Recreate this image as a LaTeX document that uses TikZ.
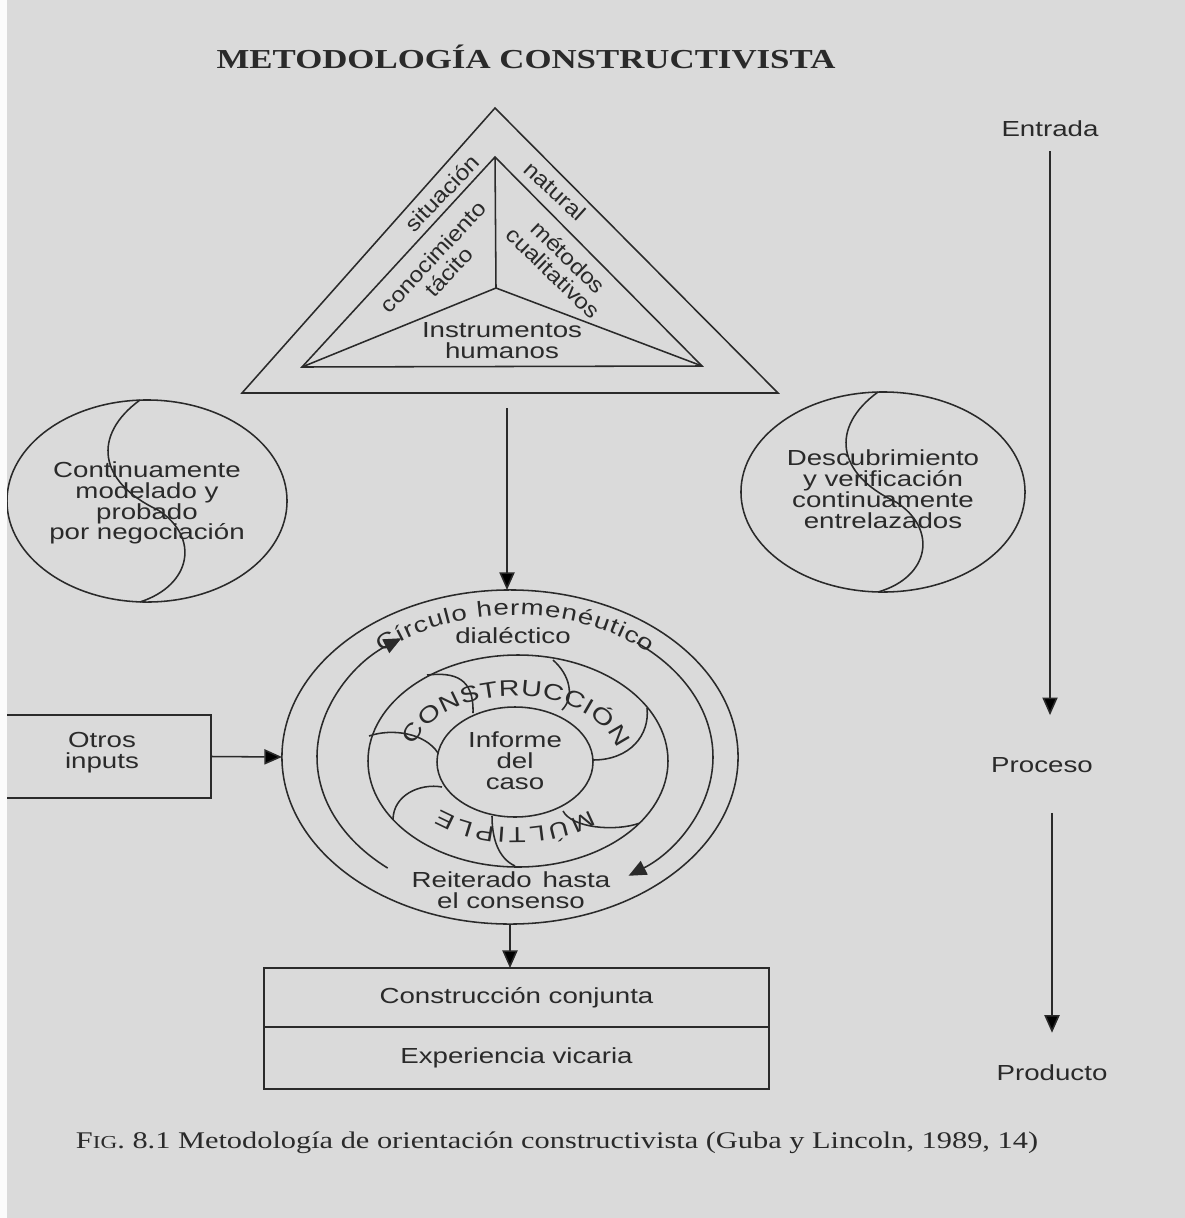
\documentclass[tikz,border=0pt]{standalone}
\usepackage{fontspec}
\setsansfont{Liberation Sans}[FakeStretch=1.27]
\newfontfamily\diagsans{Liberation Sans}[FakeStretch=1.12]
\newfontfamily\plainsans{Liberation Sans}
\newfontfamily\serifw{Liberation Serif}[FakeStretch=1.27]
\usetikzlibrary{arrows.meta,shapes.geometric,decorations.text}
\definecolor{paper}{HTML}{DADADA}
\definecolor{ink}{HTML}{2A2A2A}
\newcommand\lblfont{\sffamily\fontsize{15.5}{14.8}\selectfont}
\newcommand\diagfont{\diagsans\fontsize{15.5}{15.5}\selectfont}
\begin{document}
\begin{tikzpicture}[x=0.025cm,y=0.025cm,
  ln/.style={draw=ink,line width=1.1pt},
  lbl/.style={font=\lblfont,text=ink,align=center,inner sep=0pt},
  dlbl/.style={font=\diagfont,text=ink,align=center,inner sep=0pt},
  arr/.style={ln,-{Triangle[length=0.44cm,width=0.38cm]}},
  oval/.style={ellipse,ln,inner sep=0pt,outer sep=0pt},
  boxx/.style={rectangle,ln,inner sep=0pt,outer sep=0pt}
]
\useasboundingbox (0,0) rectangle (1185,-1218);
\fill[paper] (0,0) rectangle (1185,-1218);

% title
\node[font=\serifw\bfseries\fontsize{19.5}{20}\selectfont,text=ink,inner sep=0pt] (title) at (526,-57) {METODOLOGÍA CONSTRUCTIVISTA};

% triangle
\coordinate (A) at (495,-108);
\coordinate (B) at (242,-393);
\coordinate (C) at (778,-393);
\coordinate (a) at (495,-157);
\coordinate (b) at (302,-367);
\coordinate (c) at (702,-366);
\coordinate (o) at (496,-288);
\draw[ln] (A) -- (B) -- (C) -- cycle;
\draw[ln] (a) -- (b) -- (c) -- cycle;
\draw[ln] (a) -- (o) (o) -- (b) (o) -- (c);
\node[dlbl,rotate=46] (sit) at (442,-193) {situación};
\node[dlbl,rotate=-42] (nat) at (555,-191) {natural};
\node[dlbl,rotate=47] (con) at (441,-264) {conocimiento\\tácito};
\node[dlbl,rotate=-44] (met) at (561,-265) {métodos\\cualitativos};
\node[lbl] (ins) at (502,-341) {Instrumentos\\humanos};

% side circles
\node[oval,minimum width=7cm,minimum height=5.05cm] (lc) at (147,-501) {};
\draw[ln] (140,-400) .. controls (92,-435) and (98,-482) .. (158,-510)
                     .. controls (200,-537) and (192,-585) .. (140,-602);
\node[lbl] (lct) at (147,-503) {Continuamente\\modelado y\\probado\\por negociación};

\node[oval,minimum width=7.1cm,minimum height=5cm] (rc) at (883,-492) {};
\draw[ln] (878,-392) .. controls (830,-427) and (836,-474) .. (896,-502)
                     .. controls (938,-529) and (930,-577) .. (878,-592);
\node[lbl] (rct) at (883,-489) {Descubrimiento\\y verificación\\continuamente\\entrelazados};

% hermeneutic circle
\node[oval,minimum width=11.4cm,minimum height=8.35cm] (ring) at (510,-757) {};
\coordinate (c2) at (515,-757);
\coordinate (c3) at (515,-762);
\draw[arr] ([shift={(230:198 and 145)}]c2) arc[start angle=230,end angle=125,x radius=198,y radius=145];
\draw[arr] ([shift={(52:198 and 145)}]c2) arc[start angle=52,end angle=-55,x radius=198,y radius=145];
\draw[ln] (518,-761) ellipse [x radius=150,y radius=106];
\draw[ln] (c3) ellipse [x radius=78,y radius=55];
% lobes
\draw[ln] (427,-675) .. controls (455,-672) and (474,-678) .. (473,-713);
\draw[ln] (553,-660) .. controls (570,-675) and (575,-697) .. (562,-710);
\draw[ln] (647,-708) .. controls (650,-735) and (630,-760) .. (593,-760);
\draw[ln] (369,-736) .. controls (392,-728) and (425,-733) .. (438,-753);
\draw[ln] (442,-787) .. controls (420,-783) and (393,-795) .. (393,-820);
\draw[ln] (492,-816) .. controls (492,-838) and (498,-858) .. (515,-866);
\draw[ln] (563,-811) .. controls (572,-828) and (615,-832) .. (640,-823);

\path[decorate,decoration={text along path,text color=ink,text align=fit to path,
  text={|\sffamily\fontsize{15.5}{15}\selectfont|Círculo hermenéutico}}]
  ([shift={(133:196 and 142)}]c2) arc[start angle=133,end angle=47,x radius=196,y radius=142];
\path[decorate,decoration={text along path,text color=ink,text align=fit to path,
  text={|\sffamily\fontsize{16}{16}\selectfont|CONSTRUCCIÓN}}]
  ([shift={(166:104 and 66)}]c3) arc[start angle=166,end angle=12,x radius=104,y radius=66];
\path[decorate,decoration={text along path,text color=ink,text align=fit to path,
  text={|\sffamily\fontsize{15.5}{15}\selectfont|MÚLTIPLE}}]
  ([shift={(-46:108 and 66)}]c3) arc[start angle=-46,end angle=-134,x radius=108,y radius=66];

\node[lbl] (dia) at (513,-636) {dialéctico};
\node[lbl] (inf) at (515,-761) {Informe\\del\\caso};
\node[lbl] (rei) at (511,-890) {Reiterado\enspace hasta\\el consenso};

% inputs
\node[boxx,minimum width=5.525cm,minimum height=2.075cm] (otros) at (100.5,-756.5) {};
\node[lbl] (otrost) at (102,-753) {Otros\\inputs};
\draw[arr] (otros.east) -- (ring.west);

% arrow from triangle
\coordinate (tribase) at (507,-408);
\draw[arr] (tribase) -- (tribase |- ring.north);

% product boxes
\node[boxx,lbl,draw=ink,line width=1.1pt,minimum width=12.625cm,minimum height=1.475cm] (cc) at (516.5,-997.5) {Construcción conjunta};
\node[boxx,lbl,draw=ink,line width=1.1pt,minimum width=12.625cm,minimum height=1.55cm,anchor=north] (ev) at (cc.south) {Experiencia vicaria};
\draw[arr] (ring.south) -- (ring.south |- cc.north);

% right column
\node[lbl] (ent) at (1050,-129) {Entrada};
\node[lbl] (pro) at (1042,-765) {Proceso};
\node[lbl] (prd) at (1052,-1073) {Producto};
\draw[arr,shorten <=0.35cm,shorten >=1.05cm] (ent.south) -- (ent.south |- pro.north);
\draw[arr,shorten <=1.0cm,shorten >=0.8cm] (pro.south -| prd.north) -- (prd.north);

% caption
\node[font=\serifw\fontsize{17}{17}\selectfont,text=ink,inner sep=0pt] (cap) at (557,-1143)
  {F{\fontsize{13}{13}\selectfont IG}. 8.1 Metodología de orientación constructivista (Guba y Lincoln, 1989, 14)};

\fill[white!88!paper] (0,0) rectangle (7,-1218);
\end{tikzpicture}
\end{document}
